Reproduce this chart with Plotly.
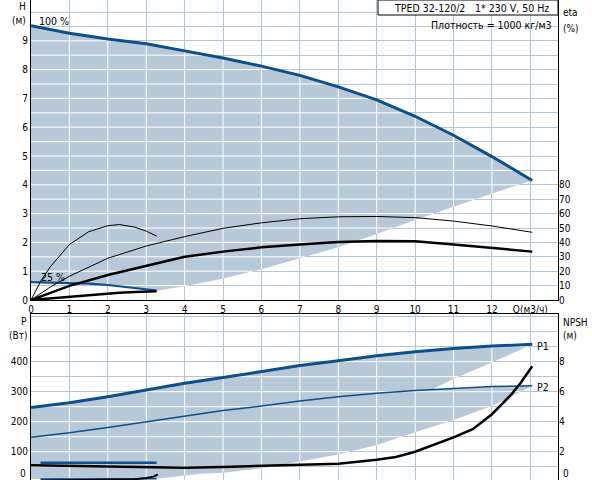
import numpy as np
from plotly import graph_objs as go

# --- top chart: head H (m) and efficiency eta (%) vs flow Q (m3/h) ---
q_h100 = [0, 1, 2, 3, 4, 5, 6, 7, 8, 9, 10, 11, 12, 12.5, 13.05]
h_100 = [9.52, 9.26, 9.06, 8.9, 8.65, 8.4, 8.12, 7.8, 7.4, 6.95, 6.38, 5.72, 4.98, 4.58, 4.15]

q_h25 = [0, 0.5, 1, 1.5, 2, 2.5, 3, 3.27]
h_25 = [0.62, 0.61, 0.6, 0.57, 0.52, 0.45, 0.38, 0.33]

# right-hand limit of the working range (max flow at each speed)
q_edge = [3.3, 4, 5, 6, 7, 8, 9, 10, 11, 12, 13.05]
h_edge = [0.33, 0.48, 0.75, 1.07, 1.45, 1.83, 2.29, 2.78, 3.24, 3.7, 4.15]

q_eta100 = [0, 0.5, 1, 2, 3, 4, 5, 6, 7, 8, 9, 10, 11, 12, 13.05]
eta_pump100 = [0, 9, 16.5, 29, 37.5, 44, 49.8, 53.6, 56.4, 57.8, 58, 57.2, 54.8, 51.4, 47]
eta_tot100 = [0, 5, 9.8, 17.4, 23.6, 30, 33.6, 36.6, 38.6, 40.2, 41, 40.8, 38.6, 36.4, 33.6]

q_eta25 = [0, 0.25, 0.5, 1, 1.5, 2, 2.3, 2.7, 3, 3.27]
eta_pump25 = [0, 13, 23, 38.5, 47.4, 51.6, 52.4, 50.6, 47.8, 44.4]
eta_tot25 = [0, 0.6, 1.2, 2.4, 3.5, 4.6, 5.1, 5.5, 5.8, 6]

# --- bottom chart: power P (W) and NPSH (m) vs flow Q ---
q_p100 = [0, 1, 2, 3, 4, 5, 6, 7, 8, 9, 10, 11, 12, 13.05]
p1_100 = [247, 263, 283, 306, 328, 347, 367, 387, 403, 420, 433, 444, 452, 458]
p2_100 = [148, 163, 181, 199, 218, 237, 252, 269, 283, 295, 304, 311, 317, 320]

q_p25 = [0.25, 1, 2, 3, 3.27]
p1_25 = [63, 63, 63, 63, 63]
p2_25 = [9, 9, 9, 10, 10]

q_e1 = [3.3, 4, 5, 6, 7, 8, 9, 10.13, 11.04, 12.04, 13.05]
p1_edge = [63, 75, 98, 125, 160, 198, 240, 289, 345, 400, 457]
q_e2 = [3.3, 4, 4.5, 5, 6, 7, 8, 9, 10, 11, 12, 13.05]
p2_edge = [12, 21, 27, 30, 44, 67, 91, 122, 165, 206, 252, 319]

q_npsh = [0, 1, 2, 3, 4, 5, 6, 7, 8, 9, 9.5, 10, 10.5, 11, 11.5, 12, 12.5, 12.75, 13.05]
npsh_100 = [1.1, 1.07, 1.02, 0.97, 0.93, 0.98, 1.04, 1.1, 1.2, 1.46, 1.65, 2.0, 2.45, 2.95, 3.5, 4.5, 5.8, 6.6, 7.7]
q_npsh25 = [0.25, 1, 1.84, 2.7, 3.0, 3.19, 3.3]
npsh_25 = [0.08, 0.09, 0.1, 0.16, 0.25, 0.34, 0.48]

H_TICKS = list(range(0, 10))
ETA_TICKS = list(range(0, 90, 10))
P_TICKS = [100, 200, 300, 400]
NPSH_TICKS = [2, 4, 6, 8]
Q_TICKS = list(range(0, 14))
Q_TEXT = [str(v) for v in range(0, 13)] + ["Q(м3/ч)"]

BLUE = "#0d4f8b"
FILL = "#b7c8d8"
GRID = "#b4c6d6"
FONT = "Liberation Sans Narrow, DejaVu Sans Condensed, Arial Narrow, Liberation Sans, sans-serif"

W, HGT = 592, 480
ML, MR = 31, 34
X_MAX = 13.72
H_MAX = 300 / 28.8
P_LO, P_HI = 5.7, 559


def runs(mask, coords):
    out = []
    start = None
    for i, m in enumerate(mask):
        if m and start is None:
            start = i
        if not m and start is not None:
            out.append((coords[start], coords[i - 1]))
            start = None
    if start is not None:
        out.append((coords[start], coords[-1]))
    return out


def white_grid(inside, xs_lines, ys_lines, y_lo, y_hi):
    gx, gy = [], []
    xs = np.linspace(0, X_MAX, 1500)
    for c in ys_lines:
        for a, b in runs(inside(xs, np.full_like(xs, c)), xs):
            gx += [a, b, None]
            gy += [c, c, None]
    ys = np.linspace(y_lo, y_hi, 1500)
    for k in xs_lines:
        for a, b in runs(inside(np.full_like(ys, k), ys), ys):
            gx += [k, k, None]
            gy += [a, b, None]
    return gx, gy


top_lo_q = np.array(q_h25 + q_edge)
top_lo_h = np.array(h_25 + h_edge)


def inside_top(x, y):
    up = np.interp(x, q_h100, h_100)
    lo = np.interp(x, top_lo_q, top_lo_h)
    return (x <= q_h100[-1]) & (y > lo) & (y < up)


a_lo_q = np.array([0] + q_p25 + q_e1)
a_lo_p = np.array([p1_25[0]] + p1_25 + p1_edge)
b_lo_q = np.array([0] + q_p25 + q_e2)
b_lo_p = np.array([p2_25[0]] + p2_25 + p2_edge)


def inside_bottom(x, y):
    in_a = (y > np.interp(x, a_lo_q, a_lo_p)) & (y < np.interp(x, q_p100, p1_100))
    in_b = (y > np.interp(x, b_lo_q, b_lo_p)) & (y < np.interp(x, q_p100, p2_100))
    return (x <= q_p100[-1]) & (in_a | in_b)


fig = go.Figure()

# operating range fills
fig.add_trace(go.Scatter(
    x=q_h100 + list(top_lo_q[::-1]), y=h_100 + list(top_lo_h[::-1]),
    fill="toself", fillcolor=FILL, line=dict(width=0), mode="lines",
    xaxis="x", yaxis="y", hoverinfo="skip"))
for up, lo_q, lo_p in [(p1_100, a_lo_q, a_lo_p), (p2_100, b_lo_q, b_lo_p)]:
    fig.add_trace(go.Scatter(
        x=q_p100 + list(lo_q[::-1]), y=up + list(lo_p[::-1]),
        fill="toself", fillcolor=FILL, line=dict(width=0), mode="lines",
        xaxis="x2", yaxis="y3", hoverinfo="skip"))

# white grid inside the fills
gx, gy = white_grid(inside_top, range(1, 14), np.arange(0.5, 10.5, 0.5), 0, H_MAX)
fig.add_trace(go.Scatter(x=gx, y=gy, mode="lines", line=dict(color="white", width=1),
                         xaxis="x", yaxis="y", hoverinfo="skip"))
gx, gy = white_grid(inside_bottom, range(1, 14), range(50, 600, 50), P_LO, P_HI)
fig.add_trace(go.Scatter(x=gx, y=gy, mode="lines", line=dict(color="white", width=1),
                         xaxis="x2", yaxis="y3", hoverinfo="skip"))

# top chart curves
fig.add_trace(go.Scatter(x=q_eta100, y=eta_pump100, mode="lines", line=dict(color="black", width=1),
                         xaxis="x", yaxis="y2"))
fig.add_trace(go.Scatter(x=q_eta100, y=eta_tot100, mode="lines", line=dict(color="black", width=2.5),
                         xaxis="x", yaxis="y2"))
fig.add_trace(go.Scatter(x=q_eta25, y=eta_pump25, mode="lines", line=dict(color="black", width=1),
                         xaxis="x", yaxis="y2"))
fig.add_trace(go.Scatter(x=q_eta25, y=eta_tot25, mode="lines", line=dict(color="black", width=2.5),
                         xaxis="x", yaxis="y2"))
fig.add_trace(go.Scatter(x=q_h25, y=h_25, mode="lines", line=dict(color=BLUE, width=2.2),
                         xaxis="x", yaxis="y"))
fig.add_trace(go.Scatter(x=q_h100, y=h_100, mode="lines", line=dict(color=BLUE, width=3),
                         xaxis="x", yaxis="y"))

# bottom chart curves
fig.add_trace(go.Scatter(x=q_p100, y=p1_100, mode="lines", line=dict(color=BLUE, width=3),
                         xaxis="x2", yaxis="y3"))
fig.add_trace(go.Scatter(x=q_p100, y=p2_100, mode="lines", line=dict(color=BLUE, width=1.5),
                         xaxis="x2", yaxis="y3"))
fig.add_trace(go.Scatter(x=q_p25, y=p1_25, mode="lines", line=dict(color=BLUE, width=2.5),
                         xaxis="x2", yaxis="y3"))
fig.add_trace(go.Scatter(x=q_p25, y=p2_25, mode="lines", line=dict(color=BLUE, width=1.5),
                         xaxis="x2", yaxis="y3"))
fig.add_trace(go.Scatter(x=q_npsh, y=npsh_100, mode="lines", line=dict(color="black", width=2.5),
                         xaxis="x2", yaxis="y4"))
fig.add_trace(go.Scatter(x=q_npsh25, y=npsh_25, mode="lines", line=dict(color="black", width=2),
                         xaxis="x2", yaxis="y4"))

tick_font = dict(family=FONT, size=10, color="black")
frame = dict(showline=True, linecolor="black", linewidth=1, mirror=True, zeroline=False, ticks="",
             automargin=False)

fig.update_layout(
    width=W, height=HGT, showlegend=False,
    margin=dict(l=ML, r=MR, t=0, b=0, autoexpand=False),
    paper_bgcolor="white", plot_bgcolor="white",
    font=dict(family=FONT, size=10, color="black"),
    xaxis=dict(domain=[0, 1], range=[0, X_MAX], anchor="y", tickvals=Q_TICKS, ticktext=Q_TEXT,
               showgrid=True, gridcolor=GRID, gridwidth=1, tickfont=tick_font, **frame),
    yaxis=dict(domain=[1 - 300 / HGT, 1], range=[0, H_MAX], anchor="x",
               tickvals=list(np.arange(0, 10.5, 0.5)),
               ticktext=[str(int(v)) if v == int(v) and v < 10 else "" for v in np.arange(0, 10.5, 0.5)],
               showgrid=True, gridcolor=GRID, gridwidth=1, tickfont=tick_font, **frame),
    yaxis2=dict(overlaying="y", side="right", range=[0, H_MAX * 20], anchor="x",
                tickvals=ETA_TICKS, showgrid=False, tickfont=tick_font, zeroline=False, ticks="",
                automargin=False),
    xaxis2=dict(domain=[0, 1], range=[0, X_MAX], anchor="y3", tickvals=Q_TICKS, showticklabels=False,
                showgrid=True, gridcolor=GRID, gridwidth=1, **frame),
    yaxis3=dict(domain=[0, 1 - 314 / HGT], range=[P_LO, P_HI], anchor="x2",
                tickvals=list(range(50, 600, 50)),
                ticktext=[str(v) if v in P_TICKS else "" for v in range(50, 600, 50)],
                showgrid=True, gridcolor=GRID, gridwidth=1, tickfont=tick_font, **frame),
    yaxis4=dict(overlaying="y3", side="right", range=[P_LO / 50, P_HI / 50], anchor="x2",
                tickvals=NPSH_TICKS, showgrid=False, tickfont=tick_font, zeroline=False, ticks="",
                automargin=False),
)


def px(x):
    return (x - ML) / (W - ML - MR)


def py(y):
    return 1 - y / HGT


def label(text, x, y, xanchor="left", size=10):
    fig.add_annotation(text=text, x=px(x), y=py(y), xref="paper", yref="paper",
                       xanchor=xanchor, yanchor="middle", showarrow=False, borderpad=0,
                       font=dict(family=FONT, size=size, color="black"))


fig.add_shape(type="rect", xref="paper", yref="paper", x0=px(378), x1=px(558), y0=py(15), y1=py(0),
              line=dict(color="black", width=1), fillcolor="white")
label("TPED 32-120/2", 393, 8, size=10.5)
label("1* 230 V, 50 Hz", 550, 8, "right", size=10.5)
label("Плотность = 1000 кг/м3", 553, 25, "right", size=10.5)
label("100 %", 38, 21, size=10.5)
label("25 %", 40, 277, size=10.5)
label("P1", 536, 346, size=10.5)
label("P2", 536, 387, size=10.5)
label("H", 27, 7, "right")
label("(м)", 27, 21, "right")
label("eta", 562, 12)
label("(%)", 562, 28)
label("P", 28, 321, "right")
label("(Вт)", 28, 335, "right")
label("NPSH", 562, 322)
label("(м)", 562, 335)
label("0", 27, 473, "right")
label("0", 562, 473)

fig.write_html("out.html", config={"displayModeBar": False},
               post_script="document.body.style.margin='0';document.body.style.overflow='hidden';")
